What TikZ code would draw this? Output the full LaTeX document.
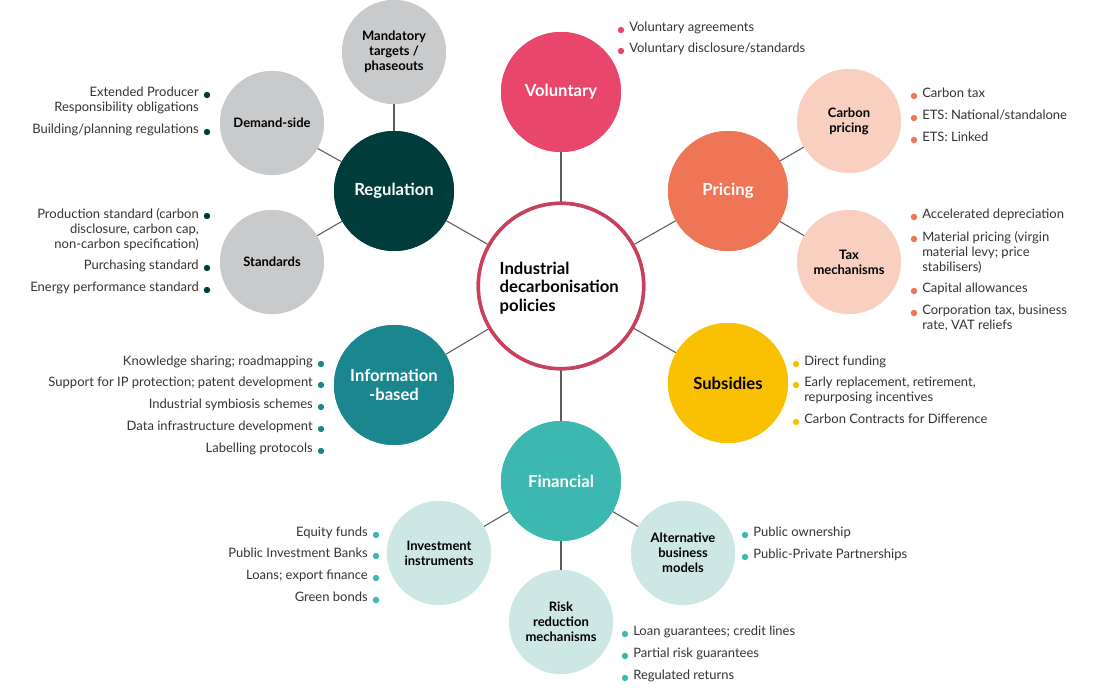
\documentclass[tikz,border=0pt]{standalone}
\usepackage{fontspec}
\setmainfont{Lato}
\definecolor{cvol}{HTML}{E8466A}
\definecolor{cpri}{HTML}{EE7555}
\definecolor{csub}{HTML}{F8C000}
\definecolor{cfin}{HTML}{3CB8B0}
\definecolor{cinf}{HTML}{1A868E}
\definecolor{creg}{HTML}{003C3C}
\definecolor{cgray}{HTML}{C8CACC}
\definecolor{cpeach}{HTML}{F9D0C0}
\definecolor{clteal}{HTML}{CDE8E4}
\definecolor{cring}{HTML}{C8405A}
\definecolor{ctext}{HTML}{333333}
\begin{document}
\begin{tikzpicture}[x=0.75pt,y=-0.75pt,
  main/.style={circle,minimum size=90pt,inner sep=0pt,text=white,font=\fontsize{12.5}{14}\selectfont\bfseries,align=center},
  sat/.style={circle,minimum size=78pt,inner sep=0pt,text=black,font=\fontsize{9.75}{11.25}\selectfont\bfseries,align=center},
  link/.style={draw=ctext!80,line width=0.8pt},
  li/.style={font=\fontsize{9.75}{11.25}\selectfont,text=ctext,inner sep=0pt,anchor=north west,align=left},
  ri/.style={font=\fontsize{9.75}{11.25}\selectfont,text=ctext,inner sep=0pt,anchor=north east,align=right}]
\useasboundingbox (0,0) rectangle (1100,698);
\node[circle,draw=cring,line width=2.6pt,fill=white,minimum size=124pt,inner sep=0pt] (c) at (561,286) {};
\node[main,fill=cvol] (vol) at (561,92) {Voluntary};
\node[main,fill=cpri] (pri) at (728,191) {Pricing};
\node[main,fill=csub,text=black] (sub) at (728,383) {Subsidies};
\node[main,fill=cfin] (fin) at (561,481) {Financial};
\node[main,fill=cinf] (inf) at (394,385) {Information\\-based};
\node[main,fill=creg] (reg) at (394,191) {Regulation};
\node[sat,fill=cgray] (man) at (394,52) {Mandatory\\targets /\\phaseouts};
\node[sat,fill=cgray] (dem) at (272,123) {Demand-side};
\node[sat,fill=cgray] (std) at (272,262) {Standards};
\node[sat,fill=cpeach] (cp) at (849,121) {Carbon\\pricing};
\node[sat,fill=cpeach] (tax) at (849,262) {Tax\\mechanisms};
\node[sat,fill=clteal] (inv) at (439,553) {Investment\\instruments};
\node[sat,fill=clteal] (alt) at (683,553) {Alternative\\business\\models};
\node[sat,fill=clteal] (risk) at (561,622) {Risk\\reduction\\mechanisms};
\foreach \a in {vol,pri,sub,fin,inf,reg} \draw[link] (c) -- (\a);
\draw[link] (reg)--(man); \draw[link] (reg)--(dem); \draw[link] (reg)--(std);
\draw[link] (pri)--(cp); \draw[link] (pri)--(tax);
\draw[link] (fin)--(inv); \draw[link] (fin)--(alt); \draw[link] (fin)--(risk);
% redraw circles over lines
\node[circle,draw=cring,line width=2.6pt,fill=white,minimum size=124pt,inner sep=0pt] at (561,286) {};
\node[font=\fontsize{12.5}{14}\selectfont\bfseries,align=left,anchor=west] (ctext) at (495,288) {Industrial\\decarbonisation\\policies};
\node[main,fill=cvol] at (561,92) {Voluntary};
\node[main,fill=cpri] at (728,191) {Pricing};
\node[main,fill=csub,text=black] at (728,383) {Subsidies};
\node[main,fill=cfin] at (561,481) {Financial};
\node[main,fill=cinf] at (394,385) {Information\\-based};
\node[main,fill=creg] at (394,191) {Regulation};
\node[sat,fill=cgray] at (394,52) {Mandatory\\targets /\\phaseouts};
\node[sat,fill=cgray] at (272,123) {Demand-side};
\node[sat,fill=cgray] at (272,262) {Standards};
\node[sat,fill=cpeach] at (849,121) {Carbon\\pricing};
\node[sat,fill=cpeach] at (849,262) {Tax\\mechanisms};
\node[sat,fill=clteal] at (439,553) {Investment\\instruments};
\node[sat,fill=clteal] at (683,553) {Alternative\\business\\models};
\node[sat,fill=clteal] at (561,622) {Risk\\reduction\\mechanisms};
\newcommand{\LI}[4]{\fill[#1] (#2,#3) circle (3.2); \node[li] at (#2+8,#3-8) {#4};}
\newcommand{\RI}[4]{\fill[#1] (#2,#3) circle (3.2); \node[ri] at (#2-8,#3-8) {#4};}
\LI{cvol}{621}{30}{Voluntary agreements}
\LI{cvol}{621}{51}{Voluntary disclosure/standards}
\LI{cpri}{914}{96}{Carbon tax}
\LI{cpri}{914}{118}{ETS: National/standalone}
\LI{cpri}{914}{140}{ETS: Linked}
\LI{cpri}{914}{217}{Accelerated depreciation}
\LI{cpri}{914}{239}{Material pricing (virgin\\material levy; price\\stabilisers)}
\LI{cpri}{914}{291}{Capital allowances}
\LI{cpri}{914}{313}{Corporation tax, business\\rate, VAT reliefs}
\LI{csub}{796}{364}{Direct funding}
\LI{csub}{796}{385}{Early replacement, retirement,\\repurposing incentives}
\LI{csub}{796}{422}{Carbon Contracts for Difference}
\LI{cfin}{745}{535}{Public ownership}
\LI{cfin}{745}{557}{Public-Private Partnerships}
\LI{cfin}{625}{634}{Loan guarantees; credit lines}
\LI{cfin}{625}{656}{Partial risk guarantees}
\LI{cfin}{625}{678}{Regulated returns}
\RI{cfin}{376}{535}{Equity funds}
\RI{cfin}{376}{556}{Public Investment Banks}
\RI{cfin}{376}{578}{Loans; export finance}
\RI{cfin}{376}{600}{Green bonds}
\RI{cinf}{321}{364}{Knowledge sharing; roadmapping}
\RI{cinf}{321}{385}{Support for IP protection; patent development}
\RI{cinf}{321}{407}{Industrial symbiosis schemes}
\RI{cinf}{321}{429}{Data infrastructure development}
\RI{cinf}{321}{451}{Labelling protocols}
\RI{creg}{207}{216}{Production standard (carbon\\disclosure, carbon cap,\\non-carbon specification)}
\RI{creg}{207}{268}{Purchasing standard}
\RI{creg}{207}{290}{Energy performance standard}
\RI{creg}{207}{95}{Extended Producer\\Responsibility obligations}
\RI{creg}{207}{132}{Building/planning regulations}
\end{tikzpicture}
\end{document}
